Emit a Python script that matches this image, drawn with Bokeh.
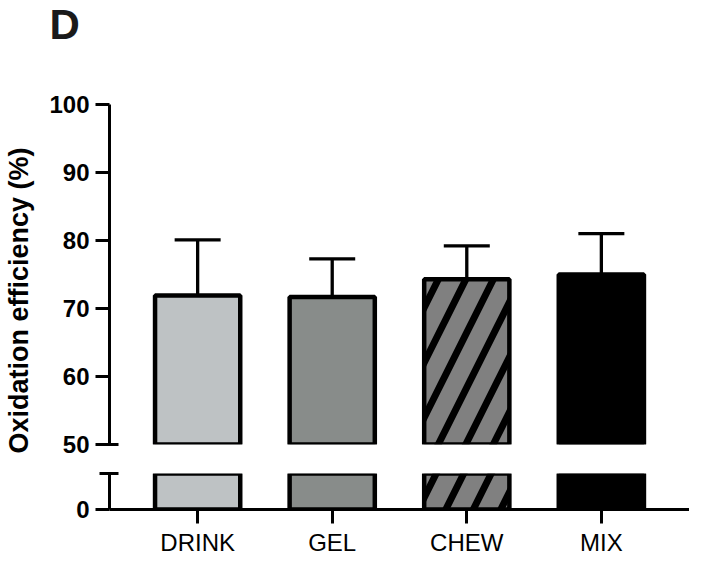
import math
from bokeh.plotting import figure
from bokeh.layouts import column, row
from bokeh.models import (ColumnDataSource, FactorRange, FixedTicker, Range1d,
                          Whisker, TeeHead)
from bokeh.core.properties import value
from bokeh.embed import file_html
from bokeh.resources import INLINE

# ---- data ----
categories = ["DRINK", "GEL", "CHEW", "MIX"]
means = [71.9, 71.7, 74.3, 75.0]
upper_sd = [80.1, 77.3, 79.2, 81.0]
fill_colors = ["#bec2c4", "#888c8a", "#808080", "#000000"]
hatches = [" ", " ", "/", " "]
top_ticks = [50, 60, 70, 80, 90, 100]
bottom_ticks = [0]
panel_letter = "D"
y_title = "Oxidation efficiency (%)"

FONT = "Liberation Sans"

src = ColumnDataSource(dict(x=categories, value=means, upper=upper_sd,
                            color=fill_colors, hatch=hatches))

x_range = FactorRange(factors=categories, range_padding=0.155,
                      range_padding_units="absolute")


def bare(p):
    p.outline_line_color = None
    p.xgrid.grid_line_color = None
    p.ygrid.grid_line_color = None
    p.background_fill_color = "white"
    p.border_fill_color = "white"


def add_bars(p):
    p.vbar(x="x", top="value", bottom=0, width=0.633, source=src,
           fill_color="color", line_color="black", line_width=4.5,
           hatch_pattern="hatch", hatch_color="black", hatch_scale=55,
           hatch_weight=7)


def style_y(ax):
    ax.axis_line_width = 3
    ax.major_tick_line_width = 3
    ax.minor_tick_line_width = 3
    ax.major_tick_out = 14
    ax.major_tick_in = 0
    ax.minor_tick_out = 10
    ax.minor_tick_in = 9
    ax.major_label_text_font = FONT
    ax.major_label_text_font_style = "bold"
    ax.major_label_text_font_size = "24px"
    ax.major_label_text_color = "black"
    ax.major_label_standoff = 6


TOTAL_W, TOTAL_H = 689, 558
TH = 48          # strip holding the panel letter
LW = 44          # strip holding the y-axis title
PW = TOTAL_W - LW

# ---- top strip with the panel letter ----
tf = figure(title=None, width=TOTAL_W, height=TH, x_range=Range1d(0, TOTAL_W),
            y_range=Range1d(TH, 0), min_border=0,
            output_backend="svg", toolbar_location=None)
bare(tf)
tf.axis.visible = False
tf.text(x=[49], y=[24], text=[panel_letter],
        text_font=value(FONT), text_font_style="bold",
        text_font_size="42px", text_color="#1a1a1a",
        text_align="left", text_baseline="alphabetic")

# ---- left strip with the y-axis title ----
LH = TOTAL_H - TH
lab = figure(title=None, width=LW, height=LH, x_range=Range1d(0, LW),
             y_range=Range1d(LH, 0), min_border=0,
             output_backend="svg", toolbar_location=None)
bare(lab)
lab.axis.visible = False
lab.text(x=[18], y=[300 - TH], text=[y_title], angle=math.pi / 2,
         text_font=value(FONT), text_font_style="bold",
         text_font_size="27px", text_color="black",
         text_align="center", text_baseline="alphabetic")

# ---- top segment (50-100) ----
p1 = figure(title=None, x_range=x_range, y_range=Range1d(50, 100),
            width=PW, height=458 - TH,
            min_border_left=65, min_border_right=0,
            min_border_top=104 - TH, min_border_bottom=14,
            output_backend="svg", toolbar_location=None)
bare(p1)
add_bars(p1)
p1.add_layout(Whisker(base="x", upper="upper", lower="value", source=src,
                      line_width=3.3, line_color="black",
                      upper_head=TeeHead(size=46, line_width=3.3,
                                         line_color="black"),
                      lower_head=None))
p1.xaxis.visible = False
style_y(p1.yaxis[0])
p1.yaxis[0].ticker = FixedTicker(ticks=top_ticks, minor_ticks=[50])

# ---- bottom segment (0-5) ----
p2 = figure(title=None, x_range=x_range, y_range=Range1d(0, 5),
            width=PW, height=100,
            min_border_left=65, min_border_right=0,
            min_border_top=15, min_border_bottom=48,
            output_backend="svg", toolbar_location=None)
bare(p2)
add_bars(p2)
style_y(p2.yaxis[0])
p2.yaxis[0].ticker = FixedTicker(ticks=bottom_ticks, minor_ticks=[5])

xa = p2.xaxis[0]
xa.axis_line_width = 3
xa.major_tick_line_width = 3
xa.major_tick_out = 14
xa.major_tick_in = 0
xa.minor_tick_line_color = None
xa.major_label_text_font = FONT
xa.major_label_text_font_size = "24px"
xa.major_label_text_color = "black"
xa.major_label_standoff = 5

layout = column(tf, row(lab, column(p1, p2, spacing=0), spacing=0), spacing=0)
open("out.html", "w").write(file_html(layout, INLINE))
